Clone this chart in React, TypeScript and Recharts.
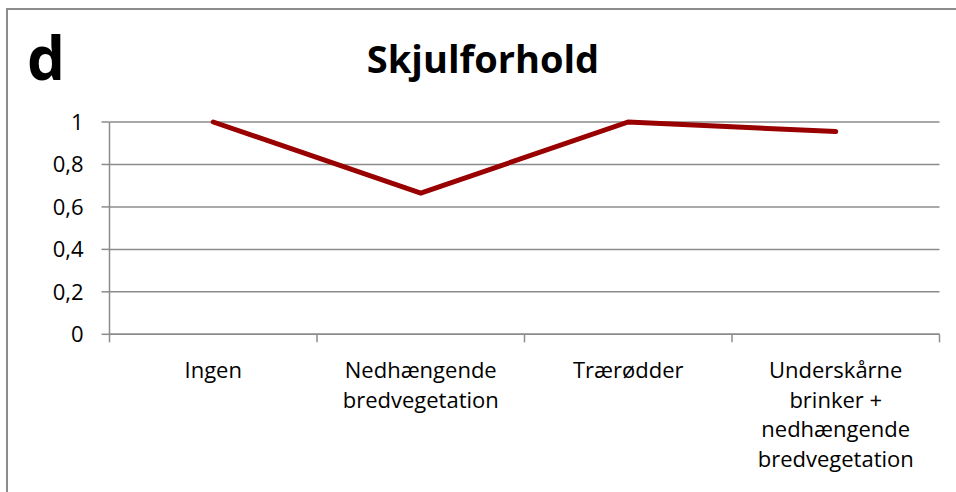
import { LineChart, Line, XAxis, YAxis, CartesianGrid } from "recharts";

// kategorier og værdier
const categories = [
  "Ingen",
  "Nedhængende bredvegetation",
  "Trærødder",
  "Underskårne brinker + nedhængende bredvegetation",
];
const labelLines = [
  ["Ingen"],
  ["Nedhængende", "bredvegetation"],
  ["Trærødder"],
  ["Underskårne", "brinker +", "nedhængende", "bredvegetation"],
];
const values = [1, 0.665, 1, 0.955];
const yTicks = [0, 0.2, 0.4, 0.6, 0.8, 1];
const frameTicks = [0, 1, 2, 3, 4];

const data = categories.map((name, i) => ({ name, slot: i, value: values[i] }));

const FONT = "'Open Sans', sans-serif";
const GRAY = "#8c8c8c";

// flerlinjet kategori-etiket
// eslint-disable-next-line @typescript-eslint/no-explicit-any
const CategoryTick = ({ x, y, index }: any) => {
  const lines = labelLines[index] ?? [];
  return (
    <text x={x} y={y} textAnchor="middle" fontSize={22} fill="#000" fontFamily={FONT}>
      {lines.map((line, i) => (
        <tspan key={i} x={x} dy={i === 0 ? 43 : 29.5}>
          {line}
        </tspan>
      ))}
    </text>
  );
};

const EmptyTick = () => <g />;

export default function App() {
  return (
    <div
      style={{
        position: "absolute",
        left: 0,
        top: 0,
        width: 956,
        height: 492,
        overflow: "hidden",
        background: "#fff",
      }}>
      {/* ramme (kun top og venstre synlig) */}
      <div
        style={{
          position: "absolute",
          left: 6,
          top: 8,
          width: 1000,
          height: 600,
          borderTop: `2px solid ${GRAY}`,
          borderLeft: `2px solid ${GRAY}`,
        }}
      />
      <div style={{ position: "absolute", left: 0, top: 0 }}>
        <LineChart
          width={956}
          height={492}
          data={data}
          margin={{ top: 122, right: 16.5, left: 0, bottom: 7.7 }}>
          <CartesianGrid
            xAxisId="cat"
            horizontal={true}
            vertical={false}
            stroke={GRAY}
            strokeWidth={1.5}
          />
          <XAxis
            xAxisId="cat"
            dataKey="name"
            scale="band"
            height={149}
            interval={0}
            tickSize={0}
            tickMargin={0}
            axisLine={false}
            tickLine={false}
            tick={<CategoryTick />}
          />
          {/* akse med tick-streger ved kategorigrænserne */}
          <XAxis
            xAxisId="base"
            dataKey="slot"
            type="number"
            domain={[0, 4]}
            allowDataOverflow
            ticks={frameTicks}
            interval={0}
            tick={<EmptyTick />}
            tickSize={8}
            height={1}
            axisLine={{ stroke: GRAY, strokeWidth: 1.5 }}
            tickLine={{ stroke: GRAY, strokeWidth: 1.5 }}
          />
          <YAxis
            type="number"
            domain={[0, 1]}
            ticks={yTicks}
            width={109.5}
            tickSize={8}
            tickMargin={18}
            tickFormatter={(v: number) => String(v).replace(".", ",")}
            tick={{ fontSize: 22, fill: "#000", fontFamily: FONT }}
            axisLine={{ stroke: GRAY, strokeWidth: 1.5 }}
            tickLine={{ stroke: GRAY, strokeWidth: 1.5 }}
          />
          <Line
            xAxisId="cat"
            type="linear"
            dataKey="value"
            stroke="#990000"
            strokeWidth={5}
            strokeLinecap="round"
            dot={false}
            activeDot={false}
            isAnimationActive={false}
          />
        </LineChart>
      </div>
      {/* bogstav og titel */}
      <svg
        width={956}
        height={492}
        style={{ position: "absolute", left: 0, top: 0, pointerEvents: "none" }}>
        <text x={27} y={80} fontSize={60} fontWeight={700} fontFamily={FONT} fill="#000">
          d
        </text>
        <text
          x={483}
          y={73}
          textAnchor="middle"
          fontSize={38}
          fontWeight={700}
          fontFamily={FONT}
          fill="#000">
          Skjulforhold
        </text>
      </svg>
    </div>
  );
}
